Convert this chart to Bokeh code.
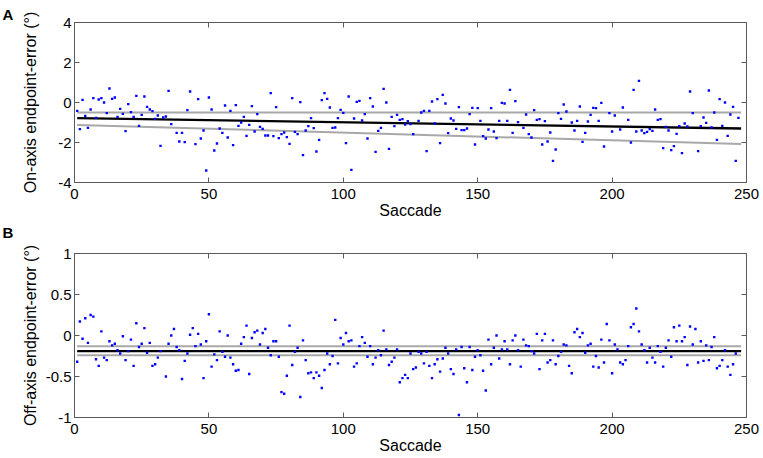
import numpy as np
from bokeh.plotting import figure
from bokeh.layouts import column
from bokeh.models import (LinearAxis, FixedTicker, Range1d, Title,
                          CustomJSTickFormatter, ColumnDataSource)
from bokeh.embed import file_html
from bokeh.resources import INLINE

NaN = float("nan")

# ---------------- data ----------------
x_ticks = [0, 50, 100, 150, 200, 250]
on_axis_ticks = [-4, -2, 0, 2, 4]
off_axis_ticks = [-1, -0.5, 0, 0.5, 1]

# on-axis endpoint error (deg), saccades 1..247
on_axis_error = [
    -0.42, -1.33, 0.13, -0.67, -1.27, -0.35, 0.22, -0.77, 0.15, 0.22,
    0.00, -0.53, 0.70, 0.18, 0.25, -0.72, -0.32, -0.57, -1.43, -0.08,
    -0.48, -0.72, 0.33, -1.17, -0.62, 0.30, -0.22, -0.35, -0.43, -0.82,
    -0.65, -2.17, -0.75, -0.70, 0.58, -1.08, NaN, -1.52, -1.95, -1.52,
    -1.98, -0.38, 0.55, NaN, -2.08, 0.17, -1.80, -1.40, -3.40, 0.25,
    -0.35, -2.40, -2.05, -1.30, -1.52, -0.15, -1.75, -0.42, -2.13, -0.13,
    -1.17, -1.00, -0.72, -1.67, -1.12, -0.18, -1.45, -0.58, -1.22, -1.32,
    -1.65, -1.65, 0.47, -1.68, -0.23, -1.78, -1.58, -1.50, -1.73, -2.07,
    0.22, -1.47, -1.58, 0.02, -2.63, -1.40, -1.18, -0.78, -1.28, -2.45,
    -1.87, 0.12, 0.47, 0.18, -0.25, -1.27, -1.25, -0.78, -0.37, -0.52,
    -2.03, 0.30, -3.37, -0.80, 0.03, 0.08, -0.90, -0.58, -1.80, 0.22,
    -0.20, -2.47, -1.42, -1.27, 0.68, 0.00, -2.32, -0.72, -1.18, -0.62,
    -0.87, -0.83, -1.10, -0.93, -1.08, -1.58, NaN, -0.92, -0.50, -0.42,
    -2.43, -0.42, 0.05, -1.05, 0.17, -2.03, 0.38, -0.05, -1.53, -0.80,
    -0.90, -1.32, -0.23, -1.38, -1.38, -1.30, -0.58, -0.27, -2.10, -0.28,
    -0.92, -1.68, -1.80, -1.35, -0.28, -1.45, -1.78, -0.92, -0.02, -0.05,
    -0.92, 0.63, -1.52, 0.07, -0.98, NaN, -1.27, -0.60, -1.58, -1.75,
    -0.38, -0.87, -0.83, -2.10, -0.93, -1.95, -1.50, -2.92, -2.35, -0.53,
    -0.82, -0.10, -0.45, NaN, -1.00, -1.40, -0.92, -0.20, -1.97, -1.52,
    -0.95, -0.62, -0.27, -0.28, -0.92, -0.02, -2.20, NaN, -0.53, -1.45,
    -0.65, NaN, -1.35, -0.25, NaN, -0.87, -2.00, 0.63, -1.45, 1.08,
    -1.40, -1.53, -1.47, -1.33, -1.42, -0.35, -0.87, -0.83, -2.28, -1.22,
    -1.40, -2.38, -2.18, -1.57, -1.18, -2.53, -1.05, -1.20, 0.55, -0.53,
    NaN, -2.43, -1.18, -0.75, -1.02, 0.60, -1.25, -0.50, -1.87, 0.17,
    -1.17, 0.00, -1.67, -0.60, -0.22, -2.92, -0.77,
]

# off-axis endpoint error (deg), saccades 1..246
off_axis_error = [
    -0.32, 0.17, -0.04, 0.21, -0.09, 0.25, 0.23, -0.29, -0.37, 0.05,
    -0.27, -0.30, -0.07, -0.12, -0.10, -0.18, -0.22, -0.01, -0.30, -0.19,
    -0.05, -0.37, 0.15, -0.14, -0.10, 0.09, -0.21, -0.09, -0.37, -0.35,
    -0.27, -0.19, NaN, -0.50, -0.10, 0.00, 0.08, -0.14, -0.18, -0.53,
    -0.31, -0.22, 0.01, 0.09, -0.13, 0.02, -0.11, -0.52, -0.07, 0.26,
    -0.38, -0.23, -0.30, 0.05, -0.20, -0.26, 0.00, -0.27, -0.35, -0.43,
    -0.42, -0.10, -0.02, 0.12, -0.47, -0.03, 0.04, 0.06, -0.11, 0.03,
    0.08, -0.15, -0.24, -0.07, -0.07, -0.26, -0.69, -0.71, -0.49, 0.12,
    -0.36, -0.20, -0.15, -0.75, -0.06, -0.30, -0.46, -0.45, -0.52, -0.45,
    -0.49, -0.64, -0.42, -0.22, -0.35, -0.25, 0.19, -0.34, -0.03, -0.11,
    0.03, -0.07, -0.06, -0.38, -0.34, -0.13, -0.02, -0.09, -0.26, -0.13,
    -0.35, -0.27, -0.18, -0.24, 0.06, -0.17, -0.36, -0.32, -0.27, -0.17,
    -0.57, -0.52, -0.48, -0.52, -0.22, -0.41, -0.39, -0.20, -0.22, -0.34,
    -0.20, -0.37, -0.52, -0.35, -0.29, -0.44, -0.28, -0.15, -0.22, -0.41,
    -0.47, -0.17, -0.97, -0.14, -0.40, -0.57, -0.14, -0.42, -0.26, -0.18,
    -0.24, -0.43, -0.67, -0.05, -0.35, -0.15, 0.00, -0.28, -0.17, -0.07,
    -0.17, -0.35, -0.06, 0.00, -0.18, -0.38, -0.05, -0.12, -0.13, -0.19,
    -0.22, 0.02, -0.41, -0.06, 0.02, -0.33, -0.30, -0.06, -0.35, -0.25,
    -0.20, -0.11, -0.12, -0.37, -0.46, 0.04, 0.08, -0.02, 0.03, -0.21,
    -0.12, -0.10, -0.38, -0.25, -0.39, -0.05, -0.33, 0.14, -0.06, -0.46,
    -0.11, -0.17, -0.33, -0.35, -0.30, -0.13, 0.10, 0.14, 0.33, 0.05,
    -0.11, -0.18, -0.33, -0.15, -0.27, -0.33, -0.13, -0.20, -0.38, -0.15,
    -0.06, -0.26, 0.10, -0.07, 0.12, -0.07, -0.02, -0.36, 0.11, -0.11,
    0.08, -0.33, -0.07, -0.31, -0.12, -0.30, -0.14, -0.02, -0.40, -0.37,
    -0.30, -0.18, -0.38, -0.48, -0.35, -0.22,
]

# regression line and bounds (endpoints at first and last saccade)
fit_x = [1, 248]
on_fit = [-0.78, -1.30]
on_upper = [-0.50, -0.50]
on_lower = [-1.12, -2.08]
off_fit = [-0.19, -0.19]
off_upper = [-0.13, -0.13]
off_lower = [-0.24, -0.24]

# ---------------- styling ----------------
FONT = "Liberation Sans"
AX = "#5a5a5a"
WIDTH = 763

fmt = CustomJSTickFormatter(code="return tick.toString();")
blank = CustomJSTickFormatter(code="return '';")


def letter_title(letter):
    return Title(text=letter, align="left", offset=-72, standoff=0,
                 text_font=FONT, text_font_size="15px",
                 text_font_style="bold", text_color="black")


def make_panel(values, yticks, yr, ylabel, fit, upper, lower,
               height, btop, bbot, ylab_standoff, fit_width):
    p = figure(width=WIDTH, height=height, output_backend="svg",
               toolbar_location=None,
               x_range=Range1d(0, 250), y_range=Range1d(*yr),
               min_border_left=74, min_border_right=17,
               min_border_top=btop, min_border_bottom=bbot)
    p.background_fill_color = "white"
    p.border_fill_color = "white"
    p.grid.visible = False
    p.outline_line_color = AX
    p.outline_line_width = 1

    xs = np.arange(1, len(values) + 1)
    src = ColumnDataSource(dict(x=xs, y=np.array(values, dtype=float)))
    p.line(fit_x, upper, line_color="#a8a8a8", line_width=2)
    p.line(fit_x, lower, line_color="#a8a8a8", line_width=2)
    p.line(fit_x, fit, line_color="black", line_width=fit_width)
    p.scatter("x", "y", source=src, marker="square", size=2.4,
              fill_color="#0000ff", line_color=None)

    for ax in p.xaxis:
        ax.ticker = FixedTicker(ticks=x_ticks)
        ax.axis_label = "Saccade"
        ax.major_label_standoff = 6
        ax.axis_label_standoff = 0
    for ax in p.yaxis:
        ax.ticker = FixedTicker(ticks=yticks)
        ax.axis_label = ylabel
        ax.major_label_standoff = 3
        ax.axis_label_standoff = ylab_standoff
    for ax in list(p.xaxis) + list(p.yaxis):
        ax.formatter = fmt
        ax.major_tick_in = 5
        ax.major_tick_out = 0
        ax.minor_tick_line_color = None
        ax.axis_line_color = AX
        ax.major_tick_line_color = AX
        ax.major_label_text_font = FONT
        ax.major_label_text_font_size = "15px"
        ax.major_label_text_color = "black"
        ax.axis_label_text_font = FONT
        ax.axis_label_text_font_size = "16px"
        ax.axis_label_text_font_style = "normal"
        ax.axis_label_text_color = "black"

    # ticks on the top and right edges of the box
    top = LinearAxis(ticker=FixedTicker(ticks=x_ticks), formatter=blank)
    right = LinearAxis(ticker=FixedTicker(ticks=yticks), formatter=blank)
    for ax in (top, right):
        ax.major_tick_in = 5
        ax.major_tick_out = 0
        ax.minor_tick_line_color = None
        ax.axis_line_color = None
        ax.major_tick_line_color = AX
        ax.major_label_standoff = 0
        ax.major_label_text_font_size = "1px"
    p.add_layout(top, "above")
    p.add_layout(right, "right")
    return p


pA = make_panel(on_axis_error, on_axis_ticks, (-4, 4),
                "On-axis endpoint-error (°)", on_fit, on_upper, on_lower,
                height=240, btop=22, bbot=58, ylab_standoff=16, fit_width=2.4)
pA.title = letter_title("A")
# panel letter "B" sits in the gap between the two panels
pA.add_layout(letter_title("B"), "below")

pB = make_panel(off_axis_error, off_axis_ticks, (-1, 1),
                "Off-axis endpoint-error (°)", off_fit, off_upper,
                off_lower, height=218, btop=13, bbot=41, ylab_standoff=4,
                fit_width=2.2)

layout = column(pA, pB, spacing=0)
open("out.html", "w").write(file_html(layout, INLINE))
